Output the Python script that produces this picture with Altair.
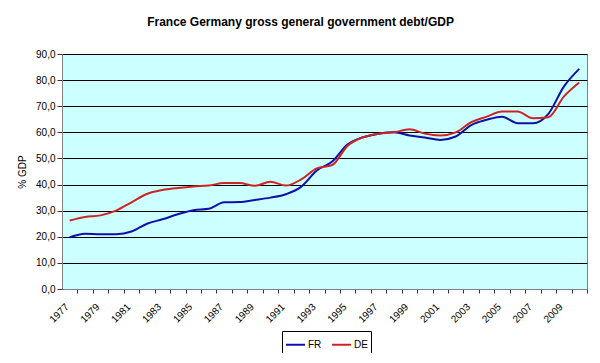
import altair as alt
import pandas as pd

years = list(range(1977, 2011))
fr = [19.8, 21.2, 21.0, 21.0, 22.0, 25.0, 26.7, 28.6, 30.2, 30.7,
      33.2, 33.3, 34.1, 35.0, 36.3, 39.2, 45.4, 48.8, 55.4, 58.1,
      59.5, 60.0, 58.8, 58.0, 57.1, 58.4, 62.8, 64.8, 66.0, 63.5,
      63.5, 67.1, 77.5, 84.3]
de = [26.2, 27.6, 28.2, 30.0, 33.2, 36.4, 37.9, 38.7, 39.3, 39.6,
      40.6, 40.6, 39.5, 41.1, 39.6, 42.0, 46.2, 47.5, 54.9, 58.1,
      59.5, 60.0, 61.2, 59.5, 58.8, 60.0, 63.9, 66.0, 68.0, 68.0,
      65.4, 65.8, 73.7, 79.1]
series = ["FR", "DE"]
colors = ["#1010A8", "#CC2424"]
y_ticks = [0, 10, 20, 30, 40, 50, 60, 70, 80, 90]

df = pd.DataFrame({
    "year": years * 2,
    "country": ["FR"] * len(years) + ["DE"] * len(years),
    "value": fr + de,
})

W, H = 525, 235
step = W / len(years)
FONT = "Liberation Sans"

x = alt.X(
    "year:Q",
    scale=alt.Scale(domain=[years[0] - 0.5, years[-1] + 0.5], nice=False, zero=False),
    axis=alt.Axis(
        values=list(range(years[0] - 1, years[-1] + 1)),
        labelExpr="datum.value % 2 == 1 ? format(datum.value, 'd') : ''",
        tickOffset=step / 2,
        labelOffset=-step / 2 - 3,
        labelAngle=-45,
        labelAlign="right",
        labelBaseline="middle",
        labelPadding=12,
        tickSize=4,
        grid=False,
        title=None,
        domainColor="#808080",
        tickColor="#333333",
        labelFontSize=10,
        labelColor="black",
        labelFont=FONT,
    ),
)

y = alt.Y(
    "value:Q",
    scale=alt.Scale(domain=[0, 90], nice=False),
    axis=alt.Axis(
        values=y_ticks,
        labelExpr="replace(format(datum.value, '.1f'), '.', ',')",
        title="% GDP",
        titleFontWeight="normal",
        titleFontSize=10,
        titleFont=FONT,
        titleColor="black",
        titlePadding=8,
        grid=True,
        gridColor="black",
        gridWidth=1,
        gridOpacity=1,
        domainColor="#808080",
        tickColor="#333333",
        tickSize=5,
        labelPadding=2,
        labelFontSize=10,
        labelColor="black",
        labelFont=FONT,
    ),
)

color = alt.Color(
    "country:N",
    scale=alt.Scale(domain=series, range=colors),
    legend=alt.Legend(
        title=None,
        orient="none",
        legendX=220,
        legendY=277,
        direction="horizontal",
        symbolType="stroke",
        symbolSize=361,
        symbolStrokeWidth=2,
        labelFontSize=10,
        labelFont=FONT,
        labelColor="black",
        strokeColor="black",
        fillColor="white",
        padding=3,
        columnPadding=6,
        labelOffset=2,
    ),
)

chart = (
    alt.Chart(df)
    .mark_line(strokeWidth=2, interpolate="monotone")
    .encode(x=x, y=y, color=color)
    .properties(
        width=W,
        height=H,
        autosize=alt.AutoSizeParams(type="none"),
        padding={"left": 54, "top": 46, "right": 5, "bottom": 64},
        background="white",
        title=alt.Title(
            "France Germany gross general government debt/GDP",
            fontSize=12,
            fontWeight="bold",
            font=FONT,
            color="black",
            anchor="middle",
            frame="group",
            dx=-24,
            offset=11,
            baseline="alphabetic",
        ),
    )
    .configure_view(fill="#CCFFFF", stroke="#808080", strokeWidth=1)
)

chart.save("out.html", embed_options={"renderer": "svg", "actions": False})
